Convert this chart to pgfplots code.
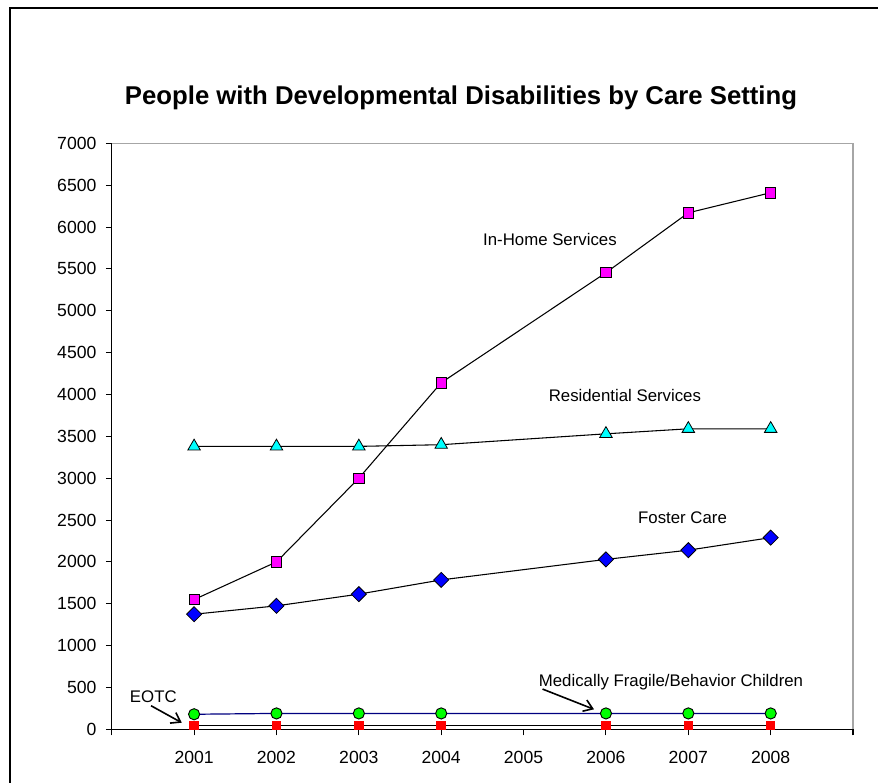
\documentclass[border=0pt]{standalone}
\usepackage{fontspec}
\setmainfont{Liberation Sans}
\usepackage{pgfplots}
\pgfplotsset{compat=1.18}
\usetikzlibrary{arrows.meta}

\definecolor{inhome}{RGB}{255,0,255}
\definecolor{resid}{RGB}{0,255,255}
\definecolor{foster}{RGB}{0,0,255}
\definecolor{medfrag}{RGB}{0,255,0}
\definecolor{eotc}{RGB}{255,0,0}
\definecolor{navyline}{RGB}{0,0,128}

\begin{document}
\begin{tikzpicture}[x=1pt,y=1pt]
\useasboundingbox (0,0) rectangle (658.5,586.5);
% chart area frame
\draw[line width=1.6pt] (7.5,-10) -- (7.5,580.5) -- (680,580.5);
\node[anchor=base, font=\fontsize{19.3}{23}\selectfont\bfseries] at (345.75,507.75)
  {People with Developmental Disabilities by Care Setting};
\begin{axis}[
  at={(83.8pt,39.5pt)}, anchor=south west,
  scale only axis, width=556pt, height=439.5pt,
  xmin=2000, xmax=2009, ymin=0, ymax=7000,
  axis lines=left, axis line style={-, black, line width=0.9pt},
  xtick={2000,...,2009},
  xticklabels={{},2001,2002,2003,2004,2005,2006,2007,2008,{}},
  ytick={0,500,...,7000},
  tick align=outside, major tick length=4.5pt,
  tick style={black, line width=0.8pt},
  /pgf/number format/assume math mode=true,
  yticklabel style={/pgf/number format/1000 sep={}, xshift=-3.5pt},
  xticklabel style={yshift=-8pt},
  ticklabel style={font=\fontsize{13.2}{16}\selectfont},
  clip=false,
]
% plot area border
\draw[gray!70, line width=0.9pt] (rel axis cs:0,1) -- (rel axis cs:1,1) -- (rel axis cs:1,0);

% EOTC
\addplot[black, line width=0.8pt, mark=square*, mark size=3.2pt,
  mark options={fill=eotc, draw=eotc}]
  coordinates {(2001,45)(2002,45)(2003,45)(2004,45)(2006,45)(2007,45)(2008,45)};
% Medically Fragile/Behavior Children
\addplot[navyline, line width=0.9pt, mark=*, mark size=4.2pt,
  mark options={fill=medfrag, draw=black, line width=0.7pt}]
  coordinates {(2001,180)(2002,190)(2003,190)(2004,190)(2006,190)(2007,190)(2008,190)};
% Foster Care
\addplot[black, line width=0.8pt, mark=square*, mark size=4.0pt,
  mark options={fill=foster, draw=black, line width=0.6pt, rotate=45}]
  coordinates {(2001,1375)(2002,1475)(2003,1615)(2004,1785)(2006,2030)(2007,2140)(2008,2290)};
% Residential Services
\addplot[black, line width=0.8pt, mark=triangle*, mark size=5.4pt,
  mark options={fill=resid, draw=black, line width=0.6pt}]
  coordinates {(2001,3380)(2002,3380)(2003,3380)(2004,3400)(2006,3530)(2007,3590)(2008,3590)};
% In-Home Services
\addplot[black, line width=0.8pt, mark=square*, mark size=3.9pt,
  mark options={fill=inhome, draw=black, line width=0.6pt}]
  coordinates {(2001,1550)(2002,2000)(2003,3000)(2004,4140)(2006,5455)(2007,6170)(2008,6410)};

% series labels
\begin{scope}[font=\fontsize{12.6}{15}\selectfont]
\node[anchor=base] at (axis cs:2005.32,5785) {In-Home Services};
\node[anchor=base] at (axis cs:2006.23,3922) {Residential Services};
\node[anchor=base] at (axis cs:2006.93,2453) {Foster Care};
\node[anchor=base] at (axis cs:2006.79,517) {Medically Fragile/Behavior Children};
\node[anchor=base] at (axis cs:2000.505,318) {EOTC};
\end{scope}
\draw[-{Straight Barb[length=6.5pt,width=9pt]}, line width=1.2pt]
  (axis cs:2000.477,282) -- (axis cs:2000.85,79);
\draw[-{Straight Barb[length=6.5pt,width=9pt]}, line width=1.2pt]
  (axis cs:2005.23,481) -- (axis cs:2005.855,239);
\end{axis}
\end{tikzpicture}
\end{document}
